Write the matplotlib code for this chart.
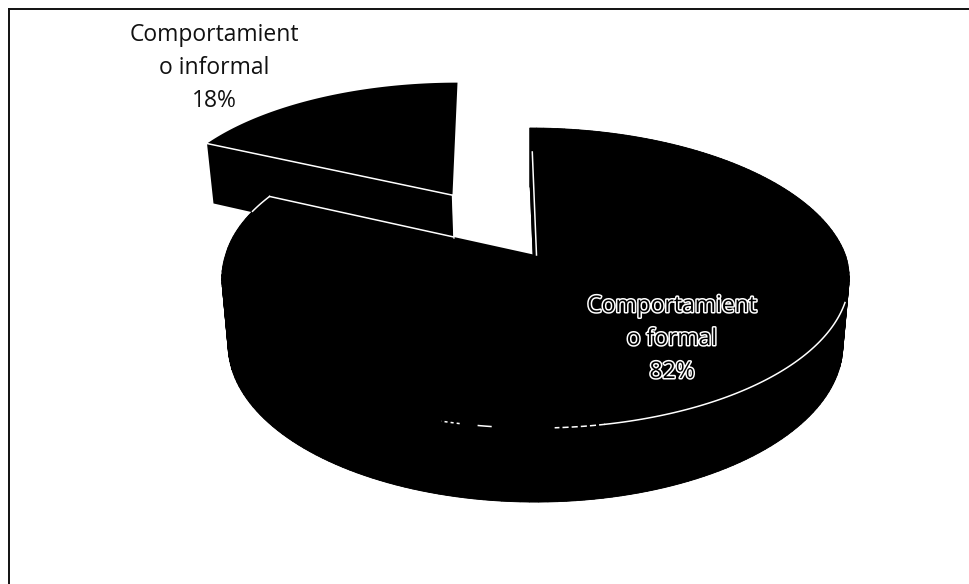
import numpy as np
import matplotlib
matplotlib.use("Agg")
import matplotlib.pyplot as plt
import matplotlib.patheffects as pe

# --- data ---
labels = ["Comportamient\no formal\n82%", "Comportamient\no informal\n18%"]
shares = [82, 18]

# --- projection of the tilted pie (world units -> image pixels) ---
X0, Y0 = 535.5, 255.0
AX, AY = 310.0, 146.5
PERSP = 0.1534
DEPTH = 65.6
SHRINK = 0.98
EXPLODE = 0.516
SKEW = 0.045


def project(wx, wy, bottom=False):
    w = 1 + PERSP * wy
    py = Y0 - AY * wy / w
    # the scan leans a little above the apex
    lean = SKEW * np.maximum(Y0 - py, 0)
    if bottom:
        return X0 + SHRINK * AX * wx / w - lean, py + DEPTH / w**0.727
    return X0 + AX * wx / w - lean, py


def rim(a0, a1, ox=0.0, oy=0.0, n=200):
    # angles in degrees, clockwise from 12 o'clock
    t = np.radians(np.linspace(a0, a1, n))
    return ox + np.sin(t), oy + np.cos(t)


def draw_slice(ax, a0, a1, ox=0.0, oy=0.0, walls=True):
    wx, wy = rim(a0, a1, ox, oy)
    wx_c = np.r_[ox, wx]
    wy_c = np.r_[oy, wy]
    if walls:
        # bottom disc
        bx, by = project(wx_c, wy_c, bottom=True)
        ax.fill(bx, by, color="black", lw=0)
        # outer wall, one small quad per rim step so it never twists
        tx, ty = project(wx, wy)
        lx, ly = project(wx, wy, bottom=True)
        for i in range(len(wx) - 1):
            ax.fill([tx[i], tx[i + 1], lx[i + 1], lx[i]],
                    [ty[i], ty[i + 1], ly[i + 1], ly[i]],
                    color="black", lw=0.6)
    # cut face on the start side
    ex = np.array([ox, wx[0]])
    ey = np.array([oy, wy[0]])
    ux, uy = project(ex, ey)
    lx2, ly2 = project(ex, ey, bottom=True)
    ax.fill(np.r_[ux, lx2[::-1]], np.r_[uy, ly2[::-1]], color="black", lw=0)
    # top face
    fx, fy = project(wx_c, wy_c)
    ax.fill(fx, fy, color="black", lw=0)


fig = plt.figure(figsize=(9.7, 5.84), dpi=100)
ax = fig.add_axes([0, 0, 1, 1])
ax.set_xlim(0, 970)
ax.set_ylim(584, 0)
ax.axis("off")

# scanned frame: only the top and left lines survive
ax.plot([9, 970], [9, 9], color="#111111", lw=1.4)
ax.plot([9.5, 9.5], [9, 584], color="#111111", lw=1.4)

main_sweep = 360 * shares[0] / sum(shares)
mid = main_sweep + (360 - main_sweep) / 2
ox = EXPLODE * np.sin(np.radians(mid))
oy = EXPLODE * np.cos(np.radians(mid))

# small slice first, the big one sits in front of it
draw_slice(ax, main_sweep, 360, ox, oy, walls=False)

# white edge of the small slice
ex, ey = project(np.array([ox + np.sin(np.radians(main_sweep)), ox]),
                 np.array([oy + np.cos(np.radians(main_sweep)), oy]))
ax.plot(ex, ey, color="white", lw=1.1)

draw_slice(ax, 0, main_sweep)

# short vertical wall line at the small slice apex
ax_x, ax_y = project(np.array([ox]), np.array([oy]))
ax.plot([ax_x[0], ax_x[0] + 1.5], [ax_y[0], Y0 - 17], color="white", lw=1.0)

# white edges of the big slice
sx, sy = project(np.array([np.sin(np.radians(main_sweep)), 0.0]),
                 np.array([np.cos(np.radians(main_sweep)), 0.0]))
stop = 0.69
ax.plot([sx[0], sx[0] + stop * (sx[1] - sx[0])],
        [sy[0], sy[0] + stop * (sy[1] - sy[0])], color="white", lw=1.1)

# edge at 12 o'clock, just inside the black
ux, uy = project(np.array([0.0, 0.0]), np.array([1.0, 0.0]))
ax.plot([ux[0] + 2.5, ux[1] + 1.0], [uy[0] + 24, uy[1]], color="white", lw=1.1)

# rim highlights on the front of the big slice
for a0, a1, ls in ((108, 169, "-"), (169, 177, (0, (4, 2))), (187, 189, "-"), (192, 195, (0, (2, 2)))):
    wx, wy = rim(a0, a1, n=80)
    px, py = project(wx, wy)
    ax.plot(px, py, color="white", lw=1.1, ls=ls)
wx, wy = rim(main_sweep - 7, main_sweep, n=30)
px, py = project(wx, wy)
ax.plot(px, py, color="white", lw=1.1)

# labels
ax.text(214, 68, labels[1], ha="center", va="center", fontsize=16.5,
        family="Open Sans", color="#111111", linespacing=1.5)
t = ax.text(672, 339, labels[0], ha="center", va="center", fontsize=16.5,
            family="Open Sans", color="black", linespacing=1.5)
t.set_path_effects([pe.withStroke(linewidth=2.2, foreground="white")])

fig.savefig("out.png", dpi=100)
